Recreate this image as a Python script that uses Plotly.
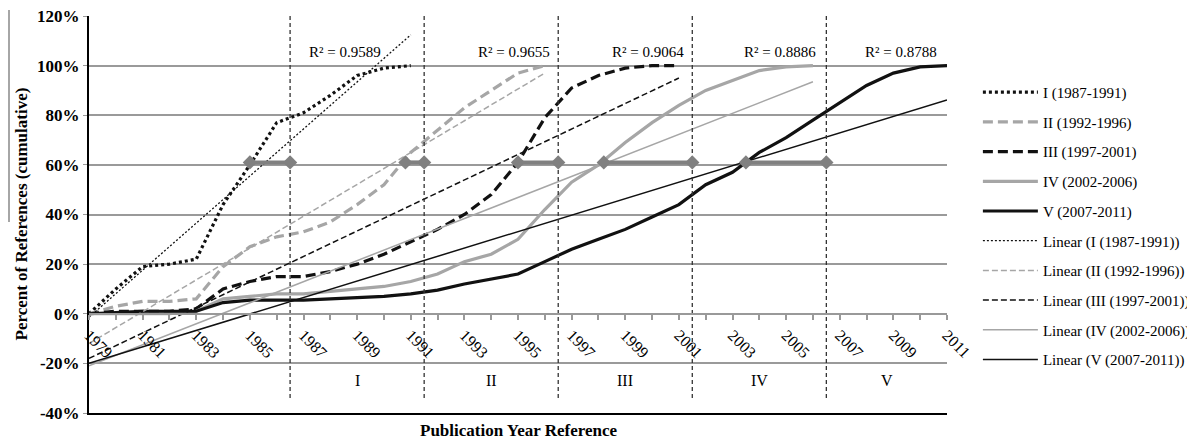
import plotly.graph_objects as go

# ---------------- data ----------------
years_I = list(range(1979, 1992))
vals_I = [0, 10, 19, 20, 22, 44, 60, 77, 81, 88, 96, 99, 100]

years_II = list(range(1979, 1997))
vals_II = [0, 3, 5, 5, 6, 19, 27, 31, 33, 37, 44, 52, 65, 74, 83, 90, 97, 100]

years_III = list(range(1979, 2002))
vals_III = [0, 1, 1, 1, 2, 10, 13, 15, 15, 17, 20, 24, 29, 34, 40, 48, 61, 79, 91, 96, 99, 100, 100]

years_IV = list(range(1979, 2007))
vals_IV = [0, 0, 0, 0, 1, 6, 7, 8, 8, 9, 10, 11, 13, 16, 21, 24, 30, 42, 53, 60, 69, 77, 84, 90,
           94, 98, 99.5, 100]

years_V = list(range(1979, 2012))
vals_V = [0, 0.5, 1, 1, 1, 4.5, 5.5, 5.5, 5.5, 6, 6.5, 7, 8, 9.5, 12, 14, 16, 21, 26, 30, 34, 39,
          44, 52, 57, 65, 71, 78, 85, 92, 97, 99.5, 100]

# linear trendlines (endpoints)
trend_x0 = [1979, 1979, 1979, 1979, 1979]
trend_x1 = [1991, 1996, 2001, 2006, 2011]
trend_y0 = [-1.4, -12, -18, -21, -20]
trend_y1 = [112.4, 97, 95, 93.5, 86.2]
r2_text = ["R² = 0.9589", "R² = 0.9655", "R² = 0.9064", "R² = 0.8886", "R² = 0.8788"]
r2_x = [1988.55, 1994.86, 1999.86, 2004.78, 2009.3]
r2_y = 105.3

names = ["I (1987-1991)", "II (1992-1996)", "III (1997-2001)", "IV (2002-2006)", "V (2007-2011)"]
period_labels = ["I", "II", "III", "IV", "V"]
period_mid = [1989, 1994, 1999, 2004, 2008.75]
period_label_y = -27

boundaries = [1986.5, 1991.5, 1996.5, 2001.5, 2006.5]
boundary_top, boundary_bottom = 120, -35

# 60% markers (start where curve reaches the level -> period boundary)
half_start = [1985, 1990.8, 1995, 1998.2, 2003.5]
half_end = [1986.5, 1991.5, 1996.5, 2001.5, 2006.5]
half_level = 61

# y-axis ticks
y_tickvals = [-40, -20, 0, 20, 40, 60, 80, 100, 120]
y_ticktext = ["-40%", "-20%", "0%", "20%", "40%", "60%", "80%", "100%", "120%"]

# ---------------- styles ----------------
series = [
    (years_I, vals_I, dict(color="#111111", width=3.2, dash="3px,3px")),
    (years_II, vals_II, dict(color="#a6a6a6", width=3.2, dash="10px,5px")),
    (years_III, vals_III, dict(color="#111111", width=3.2, dash="10px,5px")),
    (years_IV, vals_IV, dict(color="#a6a6a6", width=3.2)),
    (years_V, vals_V, dict(color="#111111", width=3.2)),
]
trend_styles = [
    dict(color="#111111", width=1.3, dash="2px,2px"),
    dict(color="#a6a6a6", width=1.5, dash="6px,3px"),
    dict(color="#111111", width=1.5, dash="6px,3px"),
    dict(color="#a6a6a6", width=1.5),
    dict(color="#111111", width=1.5),
]

fig = go.Figure()

for (xs, ys, st), nm in zip(series, names):
    fig.add_trace(go.Scatter(x=xs, y=ys, mode="lines", name=nm, line=st,
                             legendgroup=nm))

for i, nm in enumerate(names):
    fig.add_trace(go.Scatter(x=[trend_x0[i], trend_x1[i]], y=[trend_y0[i], trend_y1[i]],
                             mode="lines", name=f"Linear ({nm})", line=trend_styles[i],
                             legendgroup="lin" + nm))

# period boundaries
bx, by = [], []
for b in boundaries:
    bx += [b, b, None]
    by += [boundary_top, boundary_bottom, None]
fig.add_trace(go.Scatter(x=bx, y=by, mode="lines", showlegend=False, hoverinfo="skip",
                         line=dict(color="#333333", width=1.3, dash="4px,3px"),
                         cliponaxis=False))

# 60% level segments with diamonds
for s, e in zip(half_start, half_end):
    fig.add_trace(go.Scatter(x=[s, e], y=[half_level, half_level], mode="lines+markers",
                             showlegend=False, hoverinfo="skip",
                             line=dict(color="#808080", width=4),
                             marker=dict(symbol="diamond", size=11, color="#808080")))

# invisible trace to host the crossing x-axis
fig.add_trace(go.Scatter(x=[1979, 2011], y=[None, None], xaxis="x2", showlegend=False,
                         hoverinfo="skip"))

annotations = []
for t, x in zip(r2_text, r2_x):
    annotations.append(dict(x=x, y=r2_y, xref="x", yref="y", text=t, showarrow=False,
                            font=dict(size=15, color="black")))
for t, x in zip(period_labels, period_mid):
    annotations.append(dict(x=x, y=period_label_y, xref="x", yref="y", text=t, showarrow=False,
                            font=dict(size=16, color="black")))
annotations.append(dict(x=0.5, y=-17 / 397, xref="paper", yref="paper", yanchor="middle",
                        xanchor="center",
                        text="<b>Publication Year Reference</b>", showarrow=False,
                        font=dict(size=17, color="black")))
annotations.append(dict(x=(21 - 89) / 858, y=0.5, xref="paper", yref="paper",
                        xanchor="center", yanchor="middle",
                        text="<b>Percent of References (cumulative)</b>", showarrow=False,
                        textangle=-90, font=dict(size=17, color="black")))

# the page body adds an 8px margin, so the figure is drawn 8px smaller/offset
fig.update_layout(
    width=1187, height=431,
    margin=dict(l=81, r=248, t=8, b=26, autoexpand=False),
    plot_bgcolor="white", paper_bgcolor="white",
    font=dict(family="Liberation Serif", color="black"),
    xaxis=dict(range=[1979, 2011], showgrid=False, zeroline=False, showline=True,
               linecolor="black", linewidth=2, showticklabels=False, ticks="",
               automargin=False),
    xaxis2=dict(overlaying="x", matches="x", anchor="free", position=0.25,
                range=[1979, 2011], tickmode="linear", tick0=1979, dtick=2, tickangle=45,
                ticks="outside", ticklen=5, tickwidth=1.5, tickcolor="#999999",
                showline=True, linecolor="#999999", linewidth=2, showgrid=False,
                zeroline=False, tickfont=dict(size=16, color="black"), automargin=False,
                ticklabeloverflow="allow",
                minor=dict(dtick=1, tick0=1979, ticks="outside", ticklen=5,
                           tickcolor="#999999", tickwidth=1.5)),
    yaxis=dict(range=[-40, 120], tickmode="array", tickvals=y_tickvals, ticktext=y_ticktext,
               showgrid=True, gridcolor="#9a9a9a", gridwidth=2, zeroline=False,
               showline=True, linecolor="black", linewidth=2, ticks="outside", ticklen=4,
               tickcolor="#9a9a9a", automargin=False, ticklabeloverflow="allow",
               tickfont=dict(size=17, color="black", weight="bold")),
    legend=dict(x=1.036, y=0.849, xanchor="left", yanchor="top", traceorder="grouped",
                tracegroupgap=7.2, itemwidth=55, font=dict(size=15, color="black"),
                bgcolor="rgba(0,0,0,0)"),
    annotations=annotations,
    shapes=[dict(type="line", xref="paper", yref="paper", x0=-80 / 858, x1=-80 / 858,
                 y0=403 / 397, y1=191 / 397, line=dict(color="#888888", width=1.5))],
)

fig.write_html("out.html")
